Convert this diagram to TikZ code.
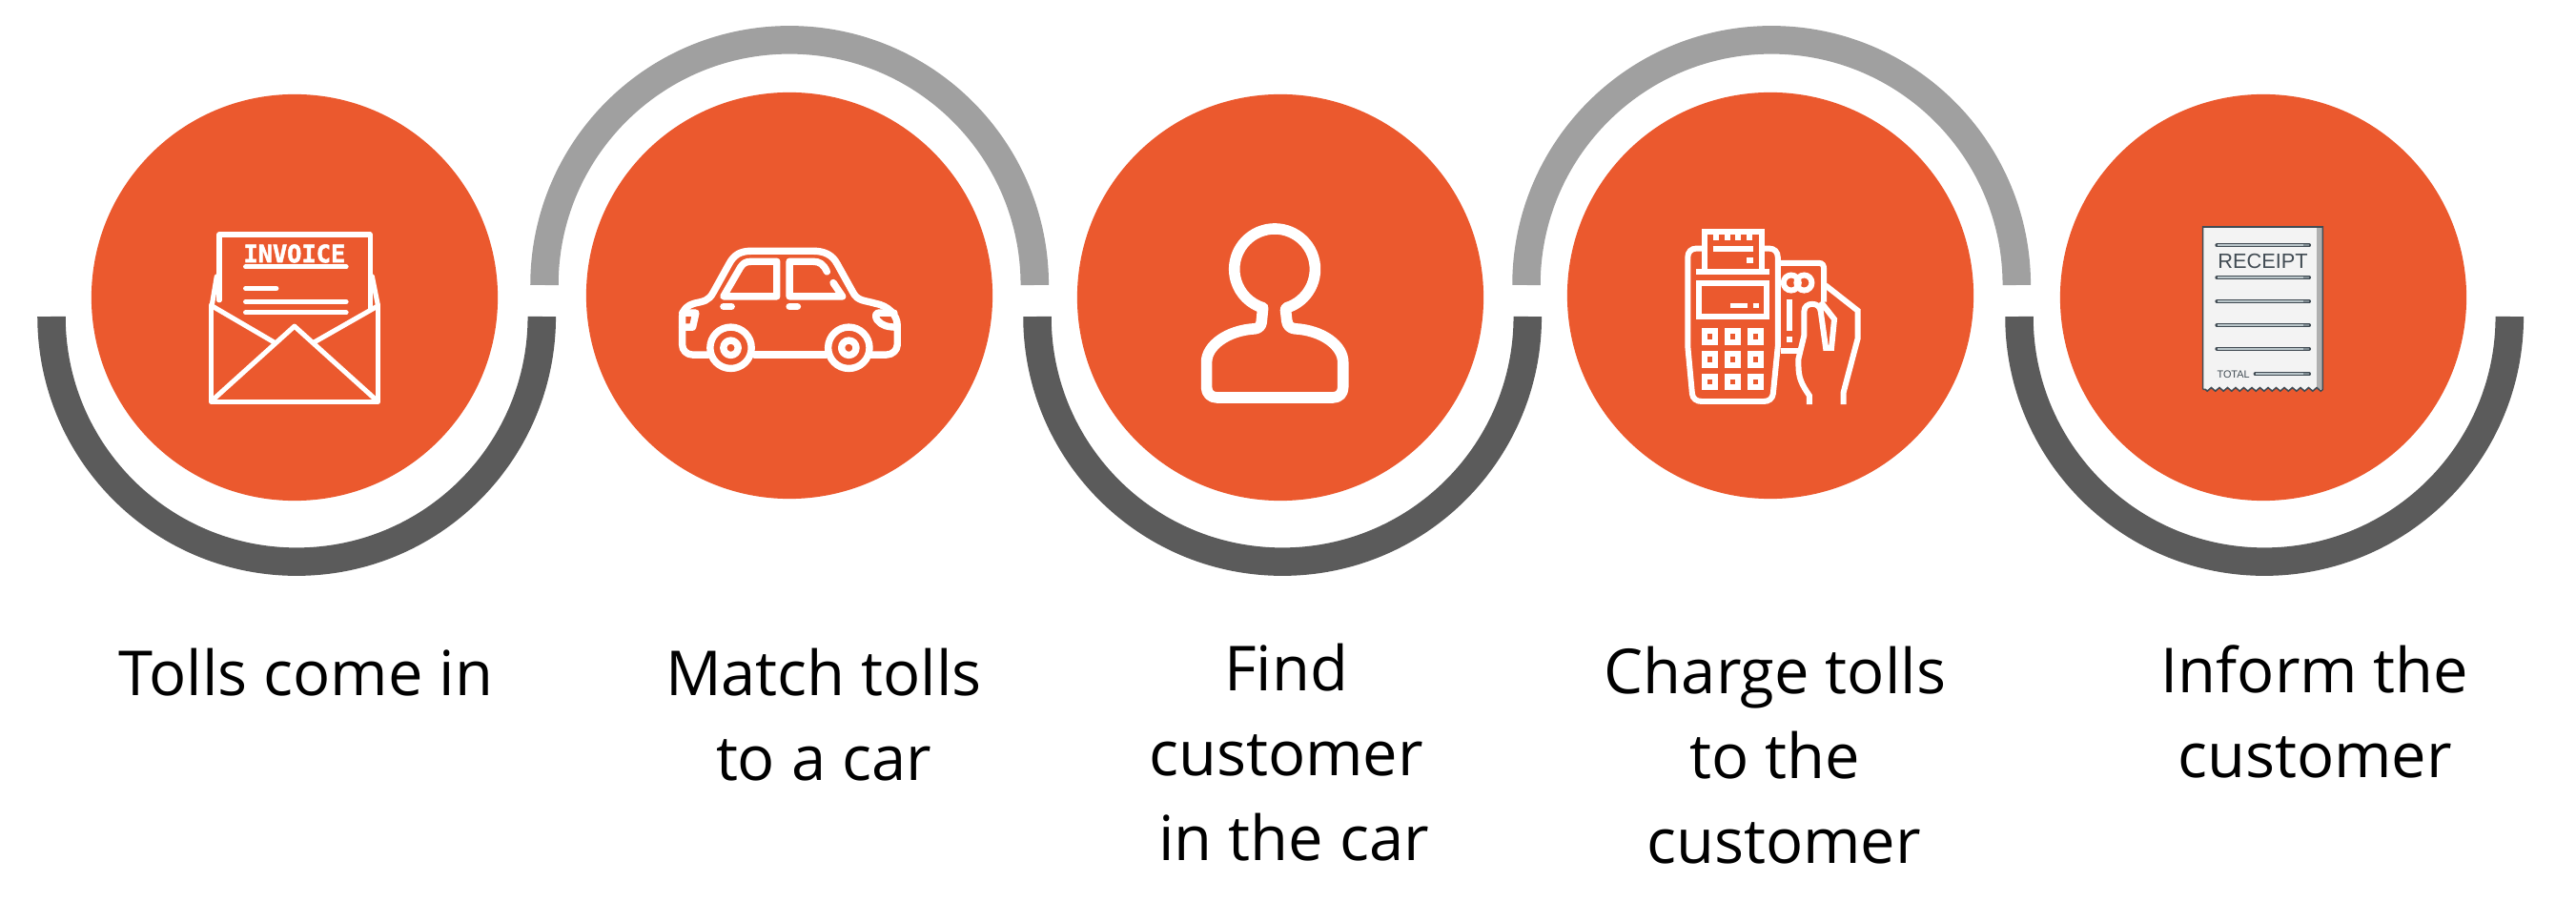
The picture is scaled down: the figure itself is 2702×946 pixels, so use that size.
\documentclass[tikz,border=0pt]{standalone}
\usepackage{fontspec}
\setmainfont{Open Sans}
\newfontfamily\receiptfont{Liberation Sans}
\newfontfamily\invoicefont[FakeBold=2]{DejaVu Sans Mono}
\definecolor{tollorange}{RGB}{235,89,46}
\definecolor{arcdark}{RGB}{91,91,91}
\definecolor{arclight}{RGB}{160,160,160}
\definecolor{inkgray}{RGB}{66,76,84}
\definecolor{slipgray}{RGB}{176,176,176}
\definecolor{slipwhite}{RGB}{243,243,243}
\definecolor{rulefill}{RGB}{186,198,202}
\definecolor{ruleend}{RGB}{128,140,146}
\usetikzlibrary{decorations.pathmorphing}

\begin{document}
\begin{tikzpicture}[x=0.01cm,y=-0.01cm,
  stepdisc/.style={circle,fill=tollorange,minimum size=4.26cm,inner sep=0pt},
  lowarc/.style={arcdark,line width=0.295cm},
  higharc/.style={arclight,line width=0.295cm},
  caption/.style={font=\fontsize{18.5}{25.2}\selectfont,align=center,inner sep=0pt,anchor=base},
  zoomgrid/.style={x=0.003333cm,y=-0.003333cm},
  icon/.style={draw=white,line width=1.45pt,line cap=round,line join=round},
  rule/.style={draw=white,line width=1.45pt,line cap=round},
  carline/.style={draw=white,line width=2.1pt,line cap=round,line join=round},
  posline/.style={draw=white,line width=1.7pt,line cap=butt,line join=miter},
  slipline/.style={draw=inkgray,line width=1.1pt,line cap=round}]
  \useasboundingbox (0,0) rectangle (2702,946);
  % Discs
  \node[stepdisc] (d1) at (309,312) {};
  \node[stepdisc] (d2) at (828,310) {};
  \node[stepdisc] (d3) at (1343,312) {};
  \node[stepdisc] (d4) at (1857,310) {};
  \node[stepdisc] (d5) at (2374,312) {};
  % Half rings around the discs
  \draw[lowarc] (54,332) arc[start angle=180,end angle=360,radius=2.57cm];
  \draw[higharc] (571,299) arc[start angle=180,end angle=0,radius=2.57cm];
  \draw[lowarc] (1088,332) arc[start angle=180,end angle=360,radius=2.57cm];
  \draw[higharc] (1601,299) arc[start angle=180,end angle=0,radius=2.57cm];
  \draw[lowarc] (2118,332) arc[start angle=180,end angle=360,radius=2.57cm];
  % Captions
  \node[caption] (t1) at (321,729) {Tolls come in};
  \node[caption] (t2) at (864,818) {Match tolls\\to a car};
  \node[caption] (t3) at (1349,902) {Find\\customer\\\hspace*{0.25em}in the car};
  \node[caption] (t4) at (1862,905) {Charge tolls\\to the\\\hspace*{0.28em}customer};
  \node[caption] (t5) at (2428,815) {Inform the\\customer};
  % Invoice in envelope
  \begin{scope}[shift={(210,235)},zoomgrid]
    \draw[icon] (60,240) -- (60,33) -- (535,33) -- (535,265);
    \draw[icon] (37,255) -- (52,165);
    \draw[icon] (560,255) -- (542,165);
    \draw[icon] (35,255) -- (35,560) -- (560,560) -- (560,255);
    \draw[icon] (37,258) -- (232,372);
    \draw[icon] (560,258) -- (360,372);
    \draw[icon] (42,552) -- (297,322) -- (552,552);
    \draw[rule] (143,135) -- (460,135);
    \draw[rule] (143,203) -- (240,203);
    \draw[rule] (143,245) -- (460,245);
    \draw[rule] (143,279) -- (460,279);
    \node[text=white,font=\invoicefont\bfseries\fontsize{7.2}{8}\selectfont,inner sep=0pt] (inv) at (297,93) {INVOICE};
  \end{scope}
  % Car
  \begin{scope}[shift={(680,230)},zoomgrid]
    \draw[carline] (190,427) -- (140,427) .. controls (120,427) and (107,412) .. (107,395)
      -- (107,305) .. controls (107,285) and (125,270) .. (145,265)
      .. controls (175,258) and (190,258) .. (205,230) -- (255,140)
      .. controls (270,112) and (290,100) .. (325,100) -- (520,100)
      .. controls (555,100) and (580,112) .. (595,140) -- (645,230)
      .. controls (660,258) and (680,255) .. (715,265)
      .. controls (755,272) and (785,300) .. (785,335) -- (785,395)
      .. controls (785,412) and (770,427) .. (750,427) -- (700,427);
    \draw[carline] (335,427) -- (560,427);
    \draw[carline] (260,405) circle[radius=0.2167cm];
    \draw[carline] (632,405) circle[radius=0.2167cm];
    \draw[carline] (260,405) circle[radius=0.0767cm];
    \draw[carline] (632,405) circle[radius=0.0767cm];
    \draw[carline] (237,243) -- (405,243) -- (405,133) -- (325,133)
      .. controls (305,133) and (298,140) .. (290,152) -- cycle;
    \draw[carline] (563,165) .. controls (553,142) and (540,133) .. (520,133) -- (445,133)
      -- (445,243) -- (612,243) -- (583,200);
    \draw[carline] (237,275) -- (262,275);
    \draw[carline] (445,275) -- (470,275);
    \draw[carline] (107,295) -- (150,295) -- (140,340) -- (107,340);
    \draw[carline] (775,295) -- (725,295) .. controls (715,295) and (715,310) .. (722,318)
      .. controls (735,335) and (755,340) .. (785,340);
  \end{scope}
  % Person
  \begin{scope}[shift={(1220,210)},zoomgrid]
    \draw[carline,line width=3.3pt] (389,339) arc[start angle=-73,end angle=253,radius=0.4233cm]
      -- (310,385) .. controls (308,398) and (300,403) .. (290,405)
      .. controls (200,410) and (137,460) .. (137,510) -- (137,590)
      .. controls (137,608) and (150,622) .. (170,622) -- (535,622)
      .. controls (555,622) and (567,608) .. (567,590) -- (567,510)
      .. controls (567,460) and (505,410) .. (415,405)
      .. controls (400,403) and (392,395) .. (390,380) -- (386,345) -- cycle;
  \end{scope}
  % Card terminal with hand
  \begin{scope}[shift={(1740,220)},zoomgrid]
    \draw[posline] (143,122) -- (118,122) .. controls (102,122) and (91,133) .. (91,150)
      -- (91,430) -- (105,580) .. controls (107,595) and (118,604) .. (135,604) -- (330,604)
      .. controls (347,604) and (358,595) .. (360,580) -- (375,430) -- (375,150)
      .. controls (375,133) and (364,122) .. (348,122) -- (323,122);
    \draw[posline] (143,190) -- (143,68) -- (323,68) -- (323,190);
    \foreach \tx in {180,215,250,285}
      \draw[posline] (\tx,70) -- (\tx,95);
    \draw[posline] (170,122) -- (296,122);
    \draw[posline] (277,159) -- (296,159);
    \draw[posline] (117,194) -- (350,194);
    \draw[posline] (126,230) rectangle (340,338);
    \draw[posline] (225,302) -- (278,302);
    \draw[posline] (296,302) -- (314,302);
    \foreach \kx in {161,233,305}
      \foreach \ky in {400,472,543}
        \draw[posline] (\kx-17,\ky-17) rectangle (\kx+17,\ky+17);
    % Card
    \draw[posline] (384,168) -- (505,168) .. controls (515,168) and (520,175) .. (520,185) -- (520,290);
    \draw[posline] (384,445) -- (440,445);
    \draw[posline] (412,283) -- (412,382);
    \draw[posline] (403,409) -- (421,409);
    \draw[posline] (417,230) circle[radius=0.08cm];
    \draw[posline] (458,230) circle[radius=0.08cm];
    % Fingers
    \draw[posline] (474,613) -- (474,585) .. controls (450,550) and (440,530) .. (440,490)
      -- (440,470) -- (458,395) -- (458,320) .. controls (458,305) and (470,297) .. (483,297)
      .. controls (498,297) and (508,305) .. (510,320) -- (526,435) -- (544,435)
      -- (553,345) -- (510,290);
    \draw[posline] (525,238) -- (627,318) -- (627,405) -- (582,575) -- (582,613);
  \end{scope}
  % Receipt
  \begin{scope}[shift={(2290,220)},zoomgrid]
    \fill[slipwhite] (62,54) -- (440,54) -- (440,566) decorate[decoration={zigzag,segment length=0.085cm,amplitude=0.018cm}] {-- (62,566)} -- cycle;
    \fill[slipgray] (420,54) rectangle (440,566);
    \draw[inkgray,line width=0.45pt] (62,566) -- (62,54) -- (440,54) -- (440,566) decorate[decoration={zigzag,segment length=0.085cm,amplitude=0.018cm}] {-- (62,566)};
    \foreach \ry in {112,214,289,364,438} {
      \draw[slipline] (106,\ry) -- (397,\ry);
      \draw[rulefill,line width=0.55pt] (108,\ry) -- (378,\ry);
      \draw[ruleend,line width=0.55pt] (378,\ry) -- (396,\ry);
    }
    \draw[slipline] (227,518) -- (397,518);
    \draw[rulefill,line width=0.55pt] (229,518) -- (378,518);
    \draw[ruleend,line width=0.55pt] (378,518) -- (396,518);
    \node[text=inkgray,font=\receiptfont\fontsize{6.2}{7}\selectfont,inner sep=0pt] (rc) at (251,163) {RECEIPT};
    \node[text=inkgray,font=\receiptfont\fontsize{3.1}{4}\selectfont,inner sep=0pt] (tot) at (158,519) {TOTAL};
  \end{scope}
\end{tikzpicture}
\end{document}
